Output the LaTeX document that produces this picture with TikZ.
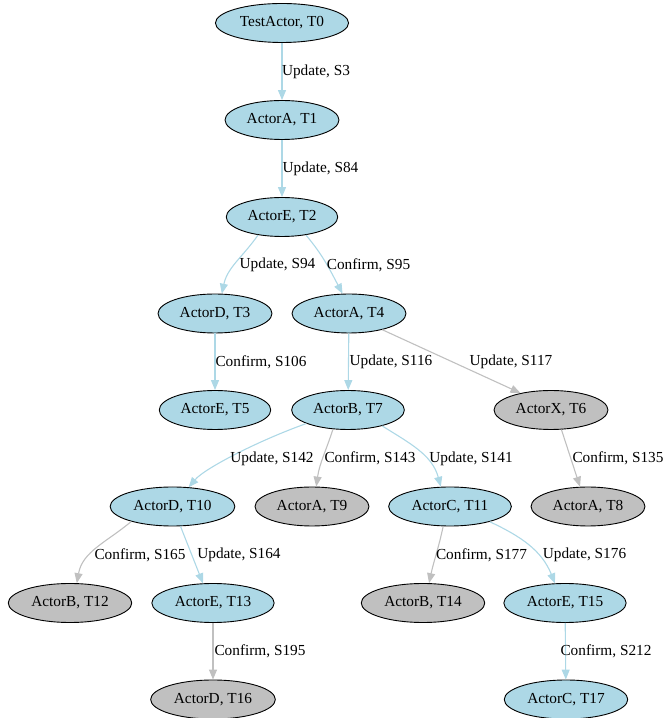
\documentclass[tikz,border=0pt]{standalone}
\usepackage{fontspec}
\setmainfont{Liberation Serif}
\usetikzlibrary{shapes.geometric,arrows.meta}
\definecolor{lblue}{HTML}{ADD8E6}
\definecolor{lgray}{HTML}{C0C0C0}
\tikzset{
  actor/.style={ellipse, draw=black, line width=0.9pt, minimum height=39pt, inner xsep=5pt, inner ysep=0pt, font=\fontsize{15.3}{18}\selectfont},
  bluenode/.style={actor, fill=lblue},
  graynode/.style={actor, fill=lgray},
  edge/.style={line width=1.1pt, -{Triangle[length=10pt,width=8pt]}},
  bedge/.style={edge, draw=lblue},
  gedge/.style={edge, draw=lgray},
  elabel/.style={font=\fontsize{15.3}{18}\selectfont, inner sep=0pt}
}
\begin{document}
\begin{tikzpicture}[x=1pt,y=1pt]
\useasboundingbox (0,0) rectangle (666,718);
% nodes
\node[bluenode] (T0) at (282,695) {TestActor, T0};
\node[bluenode] (T1) at (282,598) {ActorA, T1};
\node[bluenode] (T2) at (282,501) {ActorE, T2};
\node[bluenode] (T3) at (215,404.5) {ActorD, T3};
\node[bluenode] (T4) at (349,404.5) {ActorA, T4};
\node[bluenode] (T5) at (215,308) {ActorE, T5};
\node[bluenode] (T7) at (348,308) {ActorB, T7};
\node[graynode] (T6) at (551,308) {ActorX, T6};
\node[bluenode] (T10) at (172.5,211.5) {ActorD, T10};
\node[graynode] (T9) at (312,211.5) {ActorA, T9};
\node[bluenode] (T11) at (450,211.5) {ActorC, T11};
\node[graynode] (T8) at (588,211.5) {ActorA, T8};
\node[graynode] (T12) at (70,115) {ActorB, T12};
\node[bluenode] (T13) at (213,115) {ActorE, T13};
\node[graynode] (T14) at (423,115) {ActorB, T14};
\node[bluenode] (T15) at (565,115) {ActorE, T15};
\node[graynode] (T16) at (213,18.5) {ActorD, T16};
\node[bluenode] (T17) at (566,18.5) {ActorC, T17};
% edges
\draw[bedge] (T0) -- (T1);
\draw[bedge] (T1) -- (T2);
\draw[bedge] (T2.217) to[out=235,in=78] (T3.71);
\draw[bedge] (T2.323) to[out=-50,in=118] (T4.108);
\draw[bedge] (T3) -- (T5);
\draw[bedge] (T4) -- (T7);
\draw[gedge] (T4.334) -- (T6.151);
\draw[bedge] (T7.198) .. controls (260,278) and (205,250) .. (T10.50);
\draw[gedge] (T7.232) to[out=252,in=82] (T9.78);
\draw[bedge] (T7.335) to[out=-32,in=105] (T11.115);
\draw[gedge] (T6.298) -- (T8.112);
\draw[gedge] (T10.200) to[out=220,in=80] (T12.71);
\draw[bedge] (T10.292) -- (T13.117);
\draw[gedge] (T11.251) to[out=258,in=78] (T14.73);
\draw[bedge] (T11.339) to[out=-25,in=112] (T15.117);
\draw[gedge] (T13) -- (T16);
\draw[bedge] (T15) -- (T17);
% labels
\node[elabel] (L1) at (316,646.5) {Update, S3};
\node[elabel] (L2) at (320.5,549.5) {Update, S84};
\node[elabel] (L3) at (277.5,453) {Update, S94};
\node[elabel] (L4) at (368.5,453) {Confirm, S95};
\node[elabel] (L5) at (261,356) {Confirm, S106};
\node[elabel] (L6) at (391,356) {Update, S116};
\node[elabel] (L7) at (511,356) {Update, S117};
\node[elabel] (L8) at (272,259.5) {Update, S142};
\node[elabel] (L9) at (370,259.5) {Confirm, S143};
\node[elabel] (L10) at (471,259.5) {Update, S141};
\node[elabel] (L11) at (618,259.5) {Confirm, S135};
\node[elabel] (L12) at (140,163) {Confirm, S165};
\node[elabel] (L13) at (239,163) {Update, S164};
\node[elabel] (L14) at (481.5,163) {Confirm, S177};
\node[elabel] (L15) at (584.5,163) {Update, S176};
\node[elabel] (L16) at (260,67) {Confirm, S195};
\node[elabel] (L17) at (606,67) {Confirm, S212};
\end{tikzpicture}
\end{document}
